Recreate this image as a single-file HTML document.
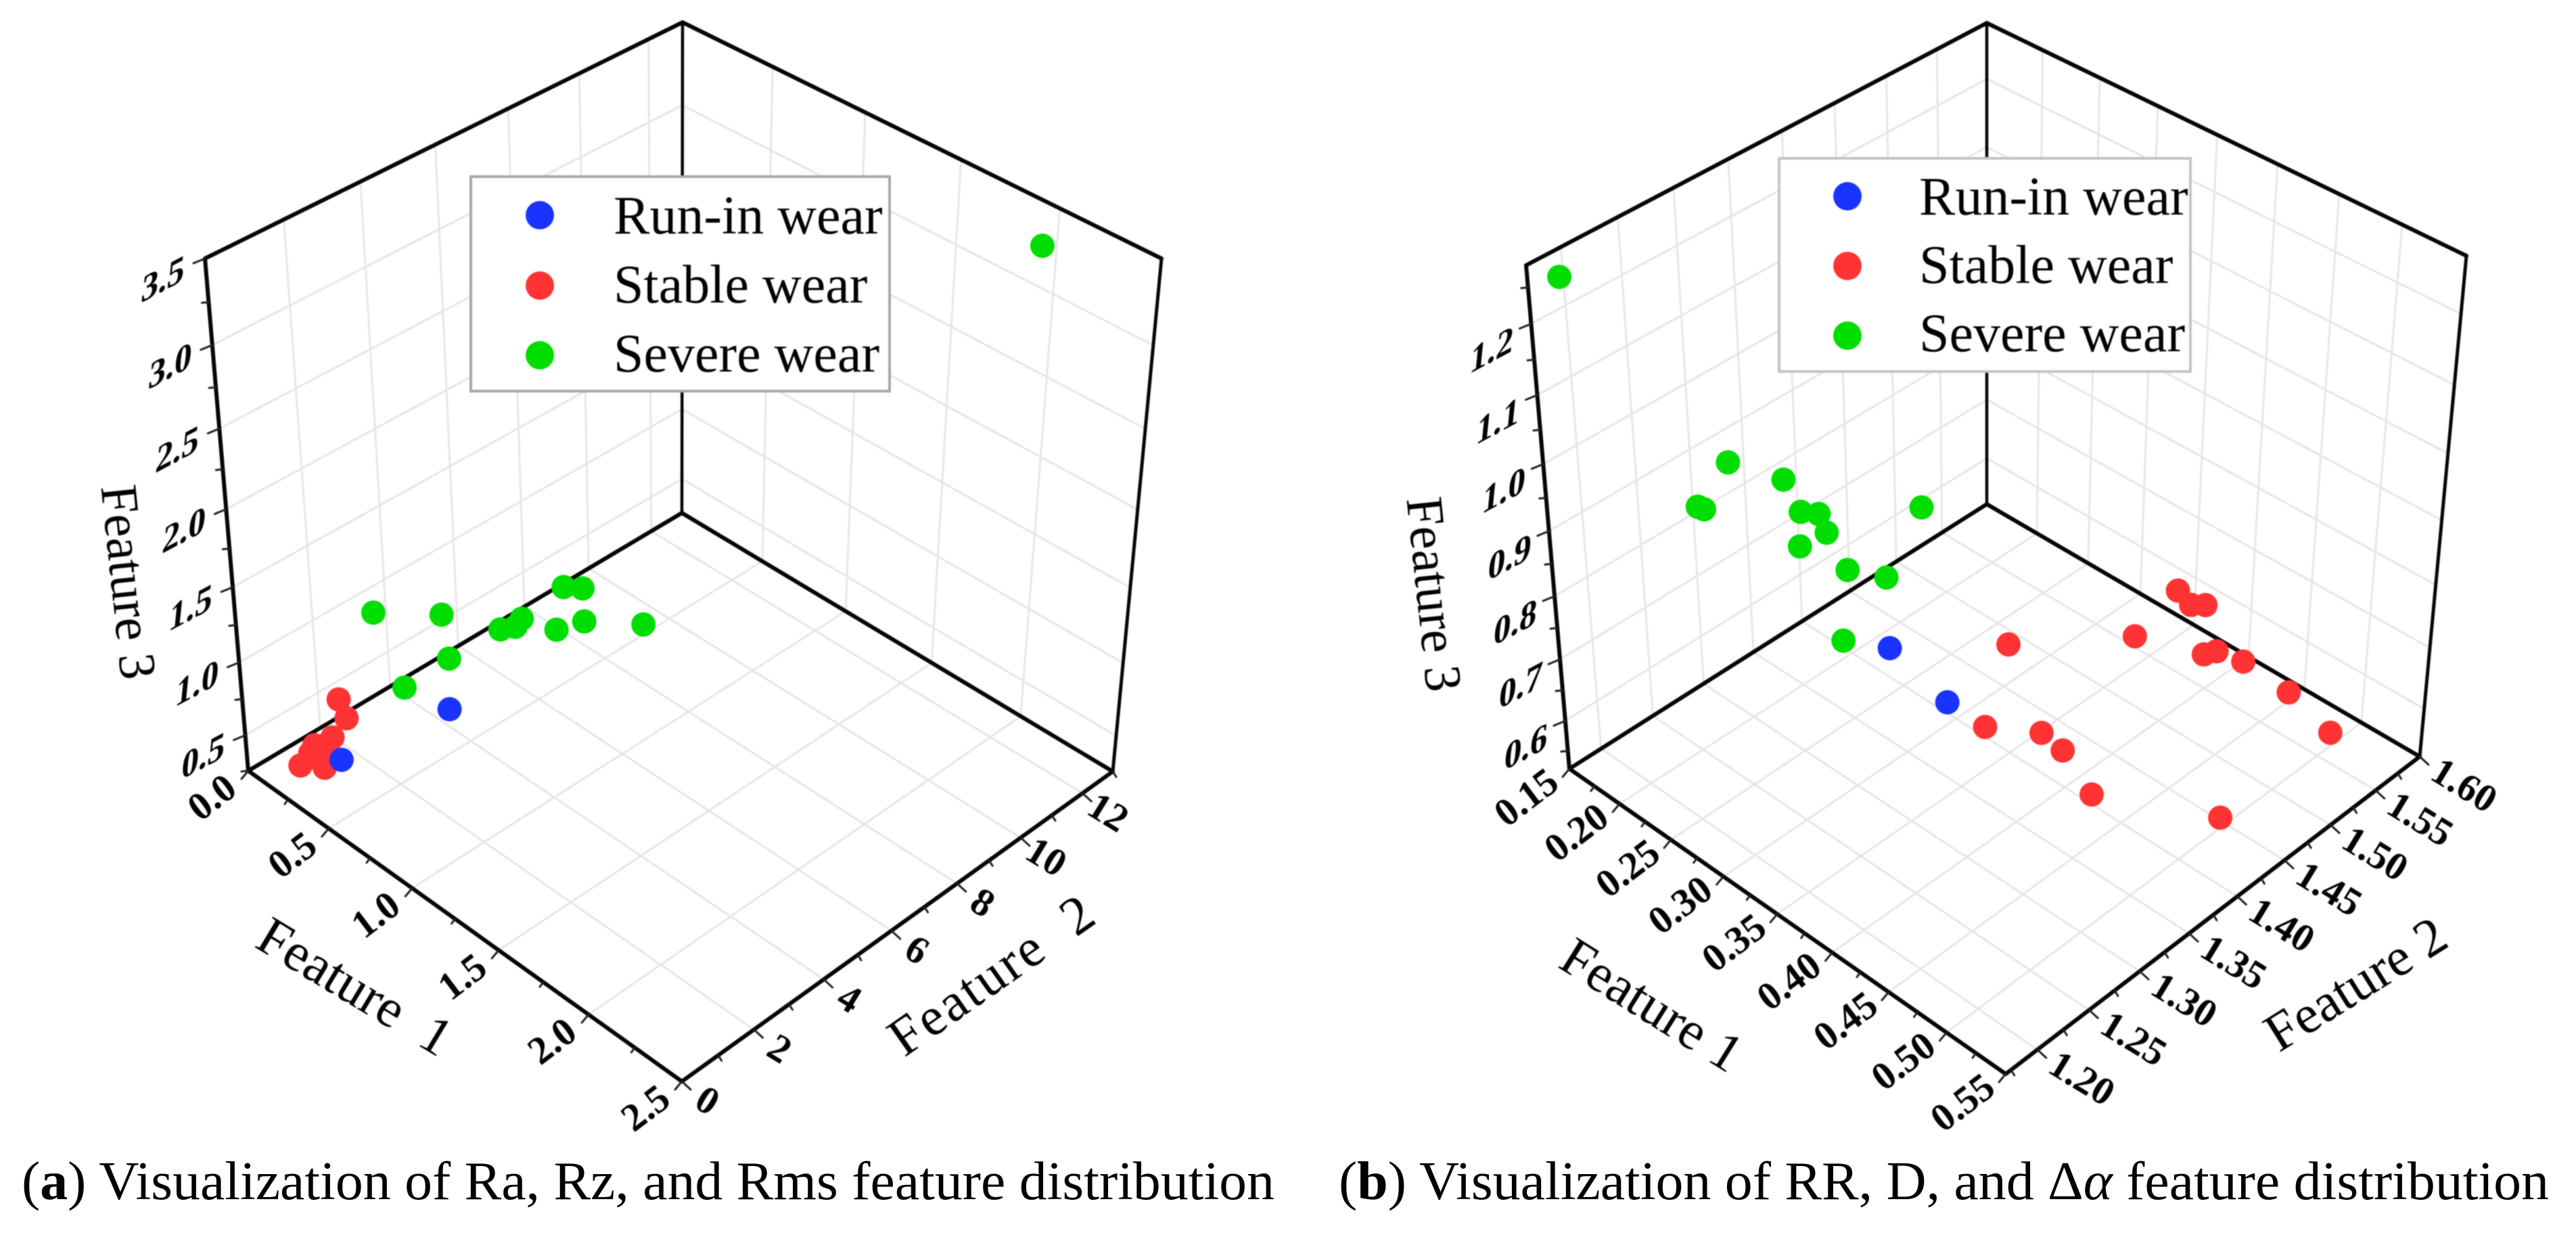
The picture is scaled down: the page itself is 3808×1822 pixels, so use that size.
<!DOCTYPE html>
<html lang="en">
<head>
<meta charset="utf-8">
<title>Wear feature distribution</title>
<style>
html,body{margin:0;padding:0;background:#fff;}
svg{display:block;}
text{font-family:"Liberation Serif","DejaVu Serif",serif;fill:#000;}
.soft{filter:blur(0.8px);}
</style>
</head>
<body>
<svg xmlns="http://www.w3.org/2000/svg" width="3808" height="1822" viewBox="0 0 3808 1822">
  <rect width="3808" height="1822" fill="#fff"/>

  <g class="soft">
    <g id="a-grid"></g>
    <g id="a-frame"></g>
    <g id="a-labels"></g>
    <text transform="translate(190,860) rotate(84)" font-size="77" text-anchor="middle" dy="0.33em">Feature 3</text>
    <text transform="translate(525,1458) rotate(31)" font-size="80" text-anchor="middle" dy="0.33em">Feature&#160;&#160;1</text>
    <text transform="translate(1465,1441) rotate(-35)" font-size="80" text-anchor="middle" dy="0.33em" textLength="350">Feature&#160;&#160;2</text>
    <g id="a-marks"></g>
    <g>
      <rect x="696" y="261" width="619" height="317" fill="#fff" stroke="#a8a8a8" stroke-width="4"/>
      <circle cx="798" cy="318" r="21" fill="#1a34ff"/>
      <text x="907" y="345" font-size="80">Run-in wear</text>
      <circle cx="798" cy="422" r="21" fill="#ff3333"/>
      <text x="907" y="447" font-size="80">Stable wear</text>
      <circle cx="798" cy="525" r="21" fill="#00dd00"/>
      <text x="907" y="549" font-size="80">Severe wear</text>
    </g>
  </g>

  <g class="soft">
    <g id="b-grid"></g>
    <g id="b-frame"></g>
    <g id="b-labels"></g>
    <text transform="translate(2120,878) rotate(84)" font-size="77" text-anchor="middle" dy="0.33em">Feature 3</text>
    <text transform="translate(2442,1485) rotate(32)" font-size="80" text-anchor="middle" dy="0.33em">Feature 1</text>
    <text transform="translate(3482,1454) rotate(-32)" font-size="80" text-anchor="middle" dy="0.33em">Feature 2</text>
    <g id="b-marks"></g>
    <g>
      <rect x="2630" y="234" width="608" height="315" fill="#fff" stroke="#c4c4c4" stroke-width="4"/>
      <circle cx="2731" cy="290" r="21" fill="#1a34ff"/>
      <text x="2837" y="317" font-size="80">Run-in wear</text>
      <circle cx="2731" cy="393" r="21" fill="#ff3333"/>
      <text x="2837" y="418" font-size="80">Stable wear</text>
      <circle cx="2731" cy="496" r="21" fill="#00dd00"/>
      <text x="2837" y="519" font-size="80">Severe wear</text>
    </g>
  </g>

  <text x="32" y="1772" font-size="80" textLength="1852" lengthAdjust="spacingAndGlyphs">(<tspan font-weight="bold">a</tspan>) Visualization of Ra, Rz, and Rms feature distribution</text>
  <text x="1979" y="1772" font-size="80" textLength="1789" lengthAdjust="spacingAndGlyphs">(<tspan font-weight="bold">b</tspan>) Visualization of RR, D, and Δ<tspan font-style="italic">α</tspan> feature distribution</text>
</svg>

<script>
/* ---------- chart (a) values ---------- */
const aTicksF1 = ['0.0','0.5','1.0','1.5','2.0','2.5'];
const aTicksF2 = ['0','2','4','6','8','10','12'];
const aTicksF3 = ['0.5','1.0','1.5','2.0','2.5','3.0','3.5'];

const aRunInF1 = [0.46,0.32];
const aRunInF2 = [3.62,1.20];
const aRunInF3 = [0.50,0.40];

const aStableF1 = [0.31,0.35,0.33,0.28,0.27,0.32,0.23,0.31,0.29,0.31];
const aStableF2 = [1.27,1.28,0.96,0.67,0.59,0.74,0.47,0.78,0.73,0.91];
const aStableF3 = [0.80,0.70,0.60,0.55,0.50,0.50,0.40,0.40,0.45,0.55];

const aSevereF1 = [1.93,0.70,0.76,0.36,0.56,0.65,0.68,0.66,0.81,0.92,1.10,0.50,0.44];
const aSevereF2 = [13.0,5.84,6.09,2.12,3.07,4.26,4.54,4.82,5.08,5.34,6.14,3.49,2.50];
const aSevereF3 = [3.24,1.20,1.20,1.30,1.30,1.10,1.10,1.10,1.10,1.20,1.20,0.90,0.80];

/* ---------- chart (b) values ---------- */
const bTicksF1 = ['0.15','0.20','0.25','0.30','0.35','0.40','0.45','0.50','0.55'];
const bTicksF2 = ['1.20','1.25','1.30','1.35','1.40','1.45','1.50','1.55','1.60'];
const bTicksF3 = ['0.6','0.7','0.8','0.9','1.0','1.1','1.2'];

const bRunInF1 = [0.242,0.301];
const bRunInF2 = [1.395,1.390];
const bRunInF3 = [0.58,0.56];

const bStableF1 = [0.392,0.400,0.407,0.370,0.306,0.416,0.420,0.432,0.467,0.506,0.376,0.390,0.433,0.508,0.345];
const bStableF2 = [1.526,1.531,1.538,1.508,1.448,1.527,1.536,1.551,1.558,1.555,1.403,1.409,1.389,1.433,1.380];
const bStableF3 = [0.70,0.68,0.68,0.62,0.60,0.62,0.62,0.60,0.58,0.56,0.58,0.56,0.56,0.56,0.58];

const bSevereF1 = [0.152,0.205,0.228,0.199,0.204,0.225,0.235,0.238,0.226,0.242,0.266,0.278,0.232];
const bSevereF2 = [1.195,1.283,1.311,1.259,1.260,1.329,1.336,1.340,1.326,1.355,1.368,1.391,1.359];
const bSevereF3 = [1.245,0.95,0.92,0.90,0.90,0.85,0.85,0.82,0.80,0.75,0.75,0.85,0.62];

const NS = 'http://www.w3.org/2000/svg';
const PERSPECTIVE = 0.1059;

function homography(p0, p1, p2, p3) {
  const dx1 = p1[0]-p2[0], dx2 = p3[0]-p2[0], sx = p0[0]-p1[0]+p2[0]-p3[0];
  const dy1 = p1[1]-p2[1], dy2 = p3[1]-p2[1], sy = p0[1]-p1[1]+p2[1]-p3[1];
  const den = dx1*dy2 - dx2*dy1;
  const g = (sx*dy2 - dx2*sy)/den, h = (dx1*sy - sx*dy1)/den;
  const a = p1[0]-p0[0]+g*p1[0], b = p3[0]-p0[0]+h*p3[0];
  const d = p1[1]-p0[1]+g*p1[1], e = p3[1]-p0[1]+h*p3[1];
  return function (u, v) {
    const t = 1 + g*u + h*v;
    return [(p0[0]+a*u+b*v)/t, (p0[1]+d*u+e*v)/t];
  };
}

function makeProjector(cfg) {
  const floor = homography(cfg.O, cfg.U, cfg.UV, cfg.V);
  const c = cfg.corners;
  return function (f1, f2, f3) {
    const u = (f1-cfg.f1[0])/(cfg.f1[1]-cfg.f1[0]);
    const v = (f2-cfg.f2[0])/(cfg.f2[1]-cfg.f2[0]);
    const w = (f3-cfg.f3[0])/(cfg.f3[1]-cfg.f3[0]);
    const s = (1-PERSPECTIVE)*w/(1-PERSPECTIVE*w);
    const base = floor(u, v);
    const dx = c.O[0]*(1-u)*(1-v)+c.U[0]*u*(1-v)+c.UV[0]*u*v+c.V[0]*(1-u)*v;
    const dy = c.O[1]*(1-u)*(1-v)+c.U[1]*u*(1-v)+c.UV[1]*u*v+c.V[1]*(1-u)*v;
    return [base[0]+s*dx, base[1]+s*dy];
  };
}

function makeLine(parent, a, b, color, width) {
  const el = document.createElementNS(NS, 'line');
  el.setAttribute('x1', a[0].toFixed(1));
  el.setAttribute('y1', a[1].toFixed(1));
  el.setAttribute('x2', b[0].toFixed(1));
  el.setAttribute('y2', b[1].toFixed(1));
  el.setAttribute('stroke', color);
  el.setAttribute('stroke-width', width);
  el.setAttribute('stroke-linecap', 'round');
  parent.appendChild(el);
  return el;
}

function minorValues(ticks, range) {
  const nums = ticks.map(Number);
  const step = nums[1]-nums[0];
  const out = [];
  for (let k = nums[0]-step/2; k <= range[1]+1e-9; k += step) {
    if (k >= range[0]-1e-9) out.push(k);
  }
  return out;
}

function tickLabel(parent, pos, text, m, size) {
  const el = document.createElementNS(NS, 'text');
  el.setAttribute('transform', 'matrix(' + m.join(',') + ',' + pos[0].toFixed(1) + ',' + pos[1].toFixed(1) + ')');
  el.setAttribute('font-size', size);
  el.setAttribute('font-weight', 'bold');
  el.setAttribute('text-anchor', 'middle');
  el.setAttribute('dy', '0.33em');
  el.textContent = text;
  
  
  parent.appendChild(el);
}

function renderPanel(id, cfg, ticksF1, ticksF2, ticksF3, series) {
  const P = makeProjector(cfg);
  const grid = document.getElementById(id+'-grid');
  const frame = document.getElementById(id+'-frame');
  const labels = document.getElementById(id+'-labels');
  const marks = document.getElementById(id+'-marks');
  const f1 = cfg.f1, f2 = cfg.f2, f3 = cfg.f3;
  const GRID = '#e6e6e6';

  ticksF1.map(Number).forEach(function (t) {
    if (t <= f1[0]+1e-9 || t >= f1[1]-1e-9) return;
    const floorLine = makeLine(grid, P(t,f2[0],f3[0]), P(t,f2[1],f3[0]), GRID, 3);
    
    
    const wallLine = makeLine(grid, P(t,f2[1],f3[0]), P(t,f2[1],f3[1]), GRID, 3);
    
    
  });
  ticksF2.map(Number).forEach(function (t) {
    if (t <= f2[0]+1e-9 || t >= f2[1]-1e-9) return;
    const floorLine = makeLine(grid, P(f1[0],t,f3[0]), P(f1[1],t,f3[0]), GRID, 3);
    
    
    const wallLine = makeLine(grid, P(f1[0],t,f3[0]), P(f1[0],t,f3[1]), GRID, 3);
    
    
  });
  ticksF3.map(Number).forEach(function (t) {
    if (t >= f3[1]-1e-9) return;
    const left = makeLine(grid, P(f1[0],f2[0],t), P(f1[0],f2[1],t), GRID, 3);
    
    
    const right = makeLine(grid, P(f1[0],f2[1],t), P(f1[1],f2[1],t), GRID, 3);
    
    
  });

  const edges = [
    [[f1[0],f2[0],f3[0]],[f1[1],f2[0],f3[0]],6],
    [[f1[1],f2[0],f3[0]],[f1[1],f2[1],f3[0]],6],
    [[f1[1],f2[1],f3[0]],[f1[0],f2[1],f3[0]],6],
    [[f1[0],f2[1],f3[0]],[f1[0],f2[0],f3[0]],6],
    [[f1[0],f2[0],f3[0]],[f1[0],f2[0],f3[1]],6],
    [[f1[0],f2[1],f3[0]],[f1[0],f2[1],f3[1]],4.5],
    [[f1[1],f2[1],f3[0]],[f1[1],f2[1],f3[1]],5],
    [[f1[0],f2[0],f3[1]],[f1[0],f2[1],f3[1]],6],
    [[f1[0],f2[1],f3[1]],[f1[1],f2[1],f3[1]],6]
  ];
  edges.forEach(function (e) {
    const line = makeLine(frame, P.apply(null,e[0]), P.apply(null,e[1]), '#050505', e[2]);
    
    
  });

  /* feature 1 ticks */
  ticksF1.forEach(function (s) {
    const p = P(Number(s), f2[0], f3[0]);
    const tick = makeLine(frame, p, [p[0]-10,p[1]+12], '#222', 3);
    
    
    tickLabel(labels, [p[0]+cfg.off1[0], p[1]+cfg.off1[1]], s, [0.79,-0.6,0.6,0.8], cfg.fontSize);
  });
  minorValues(ticksF1, f1).forEach(function (t) {
    const p = P(t, f2[0], f3[0]);
    const tick = makeLine(frame, p, [p[0]-5,p[1]+7], '#222', 3);
    
    
  });

  /* feature 2 ticks */
  ticksF2.forEach(function (s) {
    const p = P(f1[1], Number(s), f3[0]);
    const tick = makeLine(frame, p, [p[0]+13,p[1]+12], '#222', 3);
    
    
    tickLabel(labels, [p[0]+cfg.off2[0], p[1]+cfg.off2[1]], s, [0.85,0.52,-0.52,0.85], cfg.fontSize);
  });
  minorValues(ticksF2, f2).forEach(function (t) {
    const p = P(f1[1], t, f3[0]);
    const tick = makeLine(frame, p, [p[0]+5,p[1]+8], '#222', 3);
    
    
  });

  /* feature 3 ticks */
  ticksF3.forEach(function (s) {
    const p = P(f1[0], f2[0], Number(s));
    const tick = makeLine(frame, p, [p[0]-17,p[1]+7], '#222', 3);
    
    
    tickLabel(labels, [p[0]+cfg.off3[0], p[1]+cfg.off3[1]], s, [0.88,-0.47,-0.1,1], cfg.fontSize);
  });
  minorValues(ticksF3, f3).forEach(function (t) {
    const p = P(f1[0], f2[0], t);
    const tick = makeLine(frame, p, [p[0]-10,p[1]+1], '#222', 3);
    
    
  });

  /* points */
  series.forEach(function (se) {
    se.f1.forEach(function (val, i) {
      const p = P(val, se.f2[i], se.f3[i]);
      const dot = document.createElementNS(NS, 'circle');
      dot.setAttribute('cx', p[0].toFixed(1));
      dot.setAttribute('cy', p[1].toFixed(1));
      dot.setAttribute('r', 18);
      dot.setAttribute('fill', se.color);
      
      
      marks.appendChild(dot);
    });
  });
}

renderPanel('a', {
  O:[367,1139], U:[1008,1598], UV:[1645,1140], V:[1008,758],
  corners:{O:[-64,-757], U:[0,-780], UV:[72,-758], V:[1,-725]},
  f1:[0,2.5], f2:[0,13], f3:[0.25,3.5],
  off1:[-54,39], off2:[38,28], off3:[-62,30], fontSize:58
}, aTicksF1, aTicksF2, aTicksF3, [
  {color:'#00dd00', f1:aSevereF1, f2:aSevereF2, f3:aSevereF3},
  {color:'#ff3333', f1:aStableF1, f2:aStableF2, f3:aStableF3},
  {color:'#1a34ff', f1:aRunInF1, f2:aRunInF2, f3:aRunInF3}
]);

renderPanel('b', {
  O:[2320,1136], U:[2965,1587], UV:[3577,1118], V:[2937,745],
  corners:{O:[-64,-744], U:[0,-765], UV:[69,-740], V:[0,-711]},
  f1:[0.15,0.55], f2:[1.17,1.60], f3:[0.52,1.28],
  off1:[-64,42], off2:[66,42], off3:[-58,38], fontSize:58
}, bTicksF1, bTicksF2, bTicksF3, [
  {color:'#00dd00', f1:bSevereF1, f2:bSevereF2, f3:bSevereF3},
  {color:'#ff3333', f1:bStableF1, f2:bStableF2, f3:bStableF3},
  {color:'#1a34ff', f1:bRunInF1, f2:bRunInF2, f3:bRunInF3}
]);
</script>
</body>
</html>
